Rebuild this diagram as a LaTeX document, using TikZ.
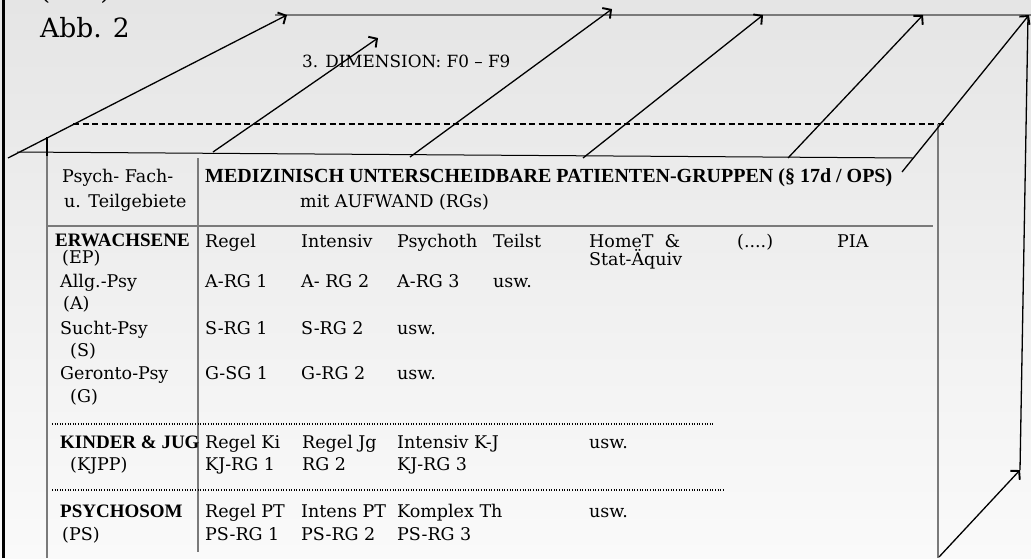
\documentclass[tikz,border=0pt]{standalone}
\usepackage{fontspec}
\setmainfont{DejaVu Serif}
\newfontfamily\boldfam{Liberation Serif}
\usetikzlibrary{arrows.meta}
\definecolor{bgtop}{HTML}{E5E5E5}
\definecolor{bgbot}{HTML}{FAFAFA}
\definecolor{linegray}{HTML}{7A7A7A}
\begin{document}
\begin{tikzpicture}[x=1pt,y=-1pt,
  txt/.style={anchor=base west, inner sep=0pt, font=\fontsize{17.5}{21}\selectfont},
  btxt/.style={anchor=base west, inner sep=0pt, font=\fontsize{19}{23}\boldfam\bfseries},
  arr/.style={-{Straight Barb[length=6pt,width=13pt,line width=1.9pt]}, line width=1.3pt},
  thinblack/.style={line width=1pt},
  grayline/.style={draw=linegray, line width=1.2pt},
  dashline/.style={dashed, dash pattern=on 6pt off 3.5pt, line width=1.2pt},
  dotline/.style={dotted, dash pattern=on 1pt off 1.6pt, line width=1.3pt}
]
\useasboundingbox (0,0) rectangle (1031,558);
\shade[top color=bgtop, bottom color=bgbot] (0,0) rectangle (1031,558);

% coordinates
\coordinate (fl0) at (3,0);
\coordinate (fl1) at (3,558);
\coordinate (tl0) at (275,15);
\coordinate (tl1) at (1031,15);
\coordinate (dl0) at (73,124);
\coordinate (dl1) at (945,124);
\coordinate (fr0) at (17,152);
\coordinate (fr1) at (913,158);
\coordinate (lv0) at (47,137);
\coordinate (lv1) at (47,558);
\coordinate (lt1) at (47,156);
\coordinate (rv0) at (938,124);
\coordinate (rv1) at (938,558);
\coordinate (bv0) at (1028,16);
\coordinate (bv1) at (1020,470);
\coordinate (cd0) at (198,158);
\coordinate (cd1) at (198,552);
\coordinate (hd0) at (47,226);
\coordinate (hd1) at (933,226);
\coordinate (d10) at (52,424);
\coordinate (d11) at (715,424);
\coordinate (d20) at (52,490);
\coordinate (d21) at (723,490);
\coordinate (a1s) at (8,158);   \coordinate (a1e) at (287,15);
\coordinate (a2s) at (213,152); \coordinate (a2e) at (378,38);
\coordinate (a3s) at (410,157); \coordinate (a3e) at (612,9);
\coordinate (a4s) at (583,158); \coordinate (a4e) at (763,15);
\coordinate (a5s) at (788,158); \coordinate (a5e) at (923,15);
\coordinate (a6s) at (902,172); \coordinate (a6e) at (1029,15);
\coordinate (a7s) at (939,557); \coordinate (a7e) at (1020,470);

% frame and box lines
\draw[line width=3pt] (fl0) -- (fl1);
\draw[grayline] (tl0) -- (tl1);
\draw[dashline] (dl0) -- (dl1);
\draw[thinblack] (fr0) -- (fr1);
\draw[grayline] (lv0) -- (lv1);
\draw[line width=1.4pt] (lv0) -- (lt1);
\draw[grayline] (rv0) -- (rv1);
\draw[line width=1.3pt] (bv0) -- (bv1);
\draw[draw=linegray, line width=1.3pt] (cd0) -- (cd1);
\draw[grayline] (hd0) -- (hd1);
\draw[dotline] (d10) -- (d11);
\draw[dotline] (d20) -- (d21);

% arrows
\draw[arr] (a1s) -- (a1e);
\draw[arr] (a2s) -- (a2e);
\draw[arr] (a3s) -- (a3e);
\draw[arr] (a4s) -- (a4e);
\draw[arr] (a5s) -- (a5e);
\draw[arr] (a6s) -- (a6e);
\draw[arr] (a7s) -- (a7e);

% titles
\node[anchor=base west, inner sep=0pt, font=\fontsize{26}{30}\selectfont] (cut) at (40,-1) {(\hspace{50pt})};
\node[anchor=base west, inner sep=0pt, font=\fontsize{26.5}{30}\selectfont] (abb) at (40,37) {Abb. 2};
\node[anchor=base west, inner sep=0pt, font=\fontsize{16.8}{20}\selectfont] (dim) at (302,67) {3. DIMENSION: F0 – F9};

% header
\node[txt] (h1) at (62,182) {Psych- Fach-};
\node[txt] (h2) at (64,207) {u. Teilgebiete};
\node[btxt, font=\fontsize{20}{24}\boldfam\bfseries] (h3) at (205,182) {MEDIZINISCH UNTERSCHEIDBARE PATIENTEN-GRUPPEN (§ 17d / OPS)};
\node[txt] (h4) at (300,207) {mit AUFWAND (RGs)};

% ERWACHSENE
\node[btxt] (er) at (55,246) {ERWACHSENE};
\node[txt] (ep) at (62,263) {(EP)};
\node[txt] (c2a) at (205,247) {Regel};
\node[txt] (c3a) at (301,247) {Intensiv};
\node[txt] (c4a) at (397,247) {Psychoth};
\node[txt] (c5a) at (493,247) {Teilst};
\node[txt] (c6a) at (589,247) {HomeT \ \&};
\node[txt] (c6b) at (589,265) {Stat-Äquiv};
\node[txt] (c7a) at (737,247) {(....)};
\node[txt] (c8a) at (837,247) {PIA};

\node[txt] (al) at (60,287) {Allg.-Psy};
\node[txt] (alk) at (63,309) {(A)};
\node[txt] (al2) at (205,287) {A-RG 1};
\node[txt] (al3) at (301,287) {A- RG 2};
\node[txt] (al4) at (397,287) {A-RG 3};
\node[txt] (al5) at (493,287) {usw.};

\node[txt] (su) at (60,334) {Sucht-Psy};
\node[txt] (suk) at (70,356) {(S)};
\node[txt] (su2) at (205,334) {S-RG 1};
\node[txt] (su3) at (301,334) {S-RG 2};
\node[txt] (su4) at (397,334) {usw.};

\node[txt] (ge) at (60,379) {Geronto-Psy};
\node[txt] (gek) at (70,402) {(G)};
\node[txt] (ge2) at (205,379) {G-SG 1};
\node[txt] (ge3) at (301,379) {G-RG 2};
\node[txt] (ge4) at (397,379) {usw.};

% KINDER
\node[btxt] (ki) at (60,448) {KINDER \& JUG};
\node[txt] (kik) at (70,470) {(KJPP)};
\node[txt] (ki2) at (205,448) {Regel Ki};
\node[txt] (ki2b) at (205,470) {KJ-RG 1};
\node[txt] (ki3) at (302,448) {Regel Jg};
\node[txt] (ki3b) at (302,470) {RG 2};
\node[txt] (ki4) at (397,448) {Intensiv K-J};
\node[txt] (ki4b) at (397,470) {KJ-RG 3};
\node[txt] (ki6) at (589,448) {usw.};

% PSYCHOSOM
\node[btxt] (ps) at (60,517) {PSYCHOSOM};
\node[txt] (psk) at (62,540) {(PS)};
\node[txt] (ps2) at (205,517) {Regel PT};
\node[txt] (ps2b) at (205,540) {PS-RG 1};
\node[txt] (ps3) at (301,517) {Intens PT};
\node[txt] (ps3b) at (301,540) {PS-RG 2};
\node[txt] (ps4) at (397,517) {Komplex Th};
\node[txt] (ps4b) at (397,540) {PS-RG 3};
\node[txt] (ps6) at (589,517) {usw.};
\end{tikzpicture}
\end{document}
